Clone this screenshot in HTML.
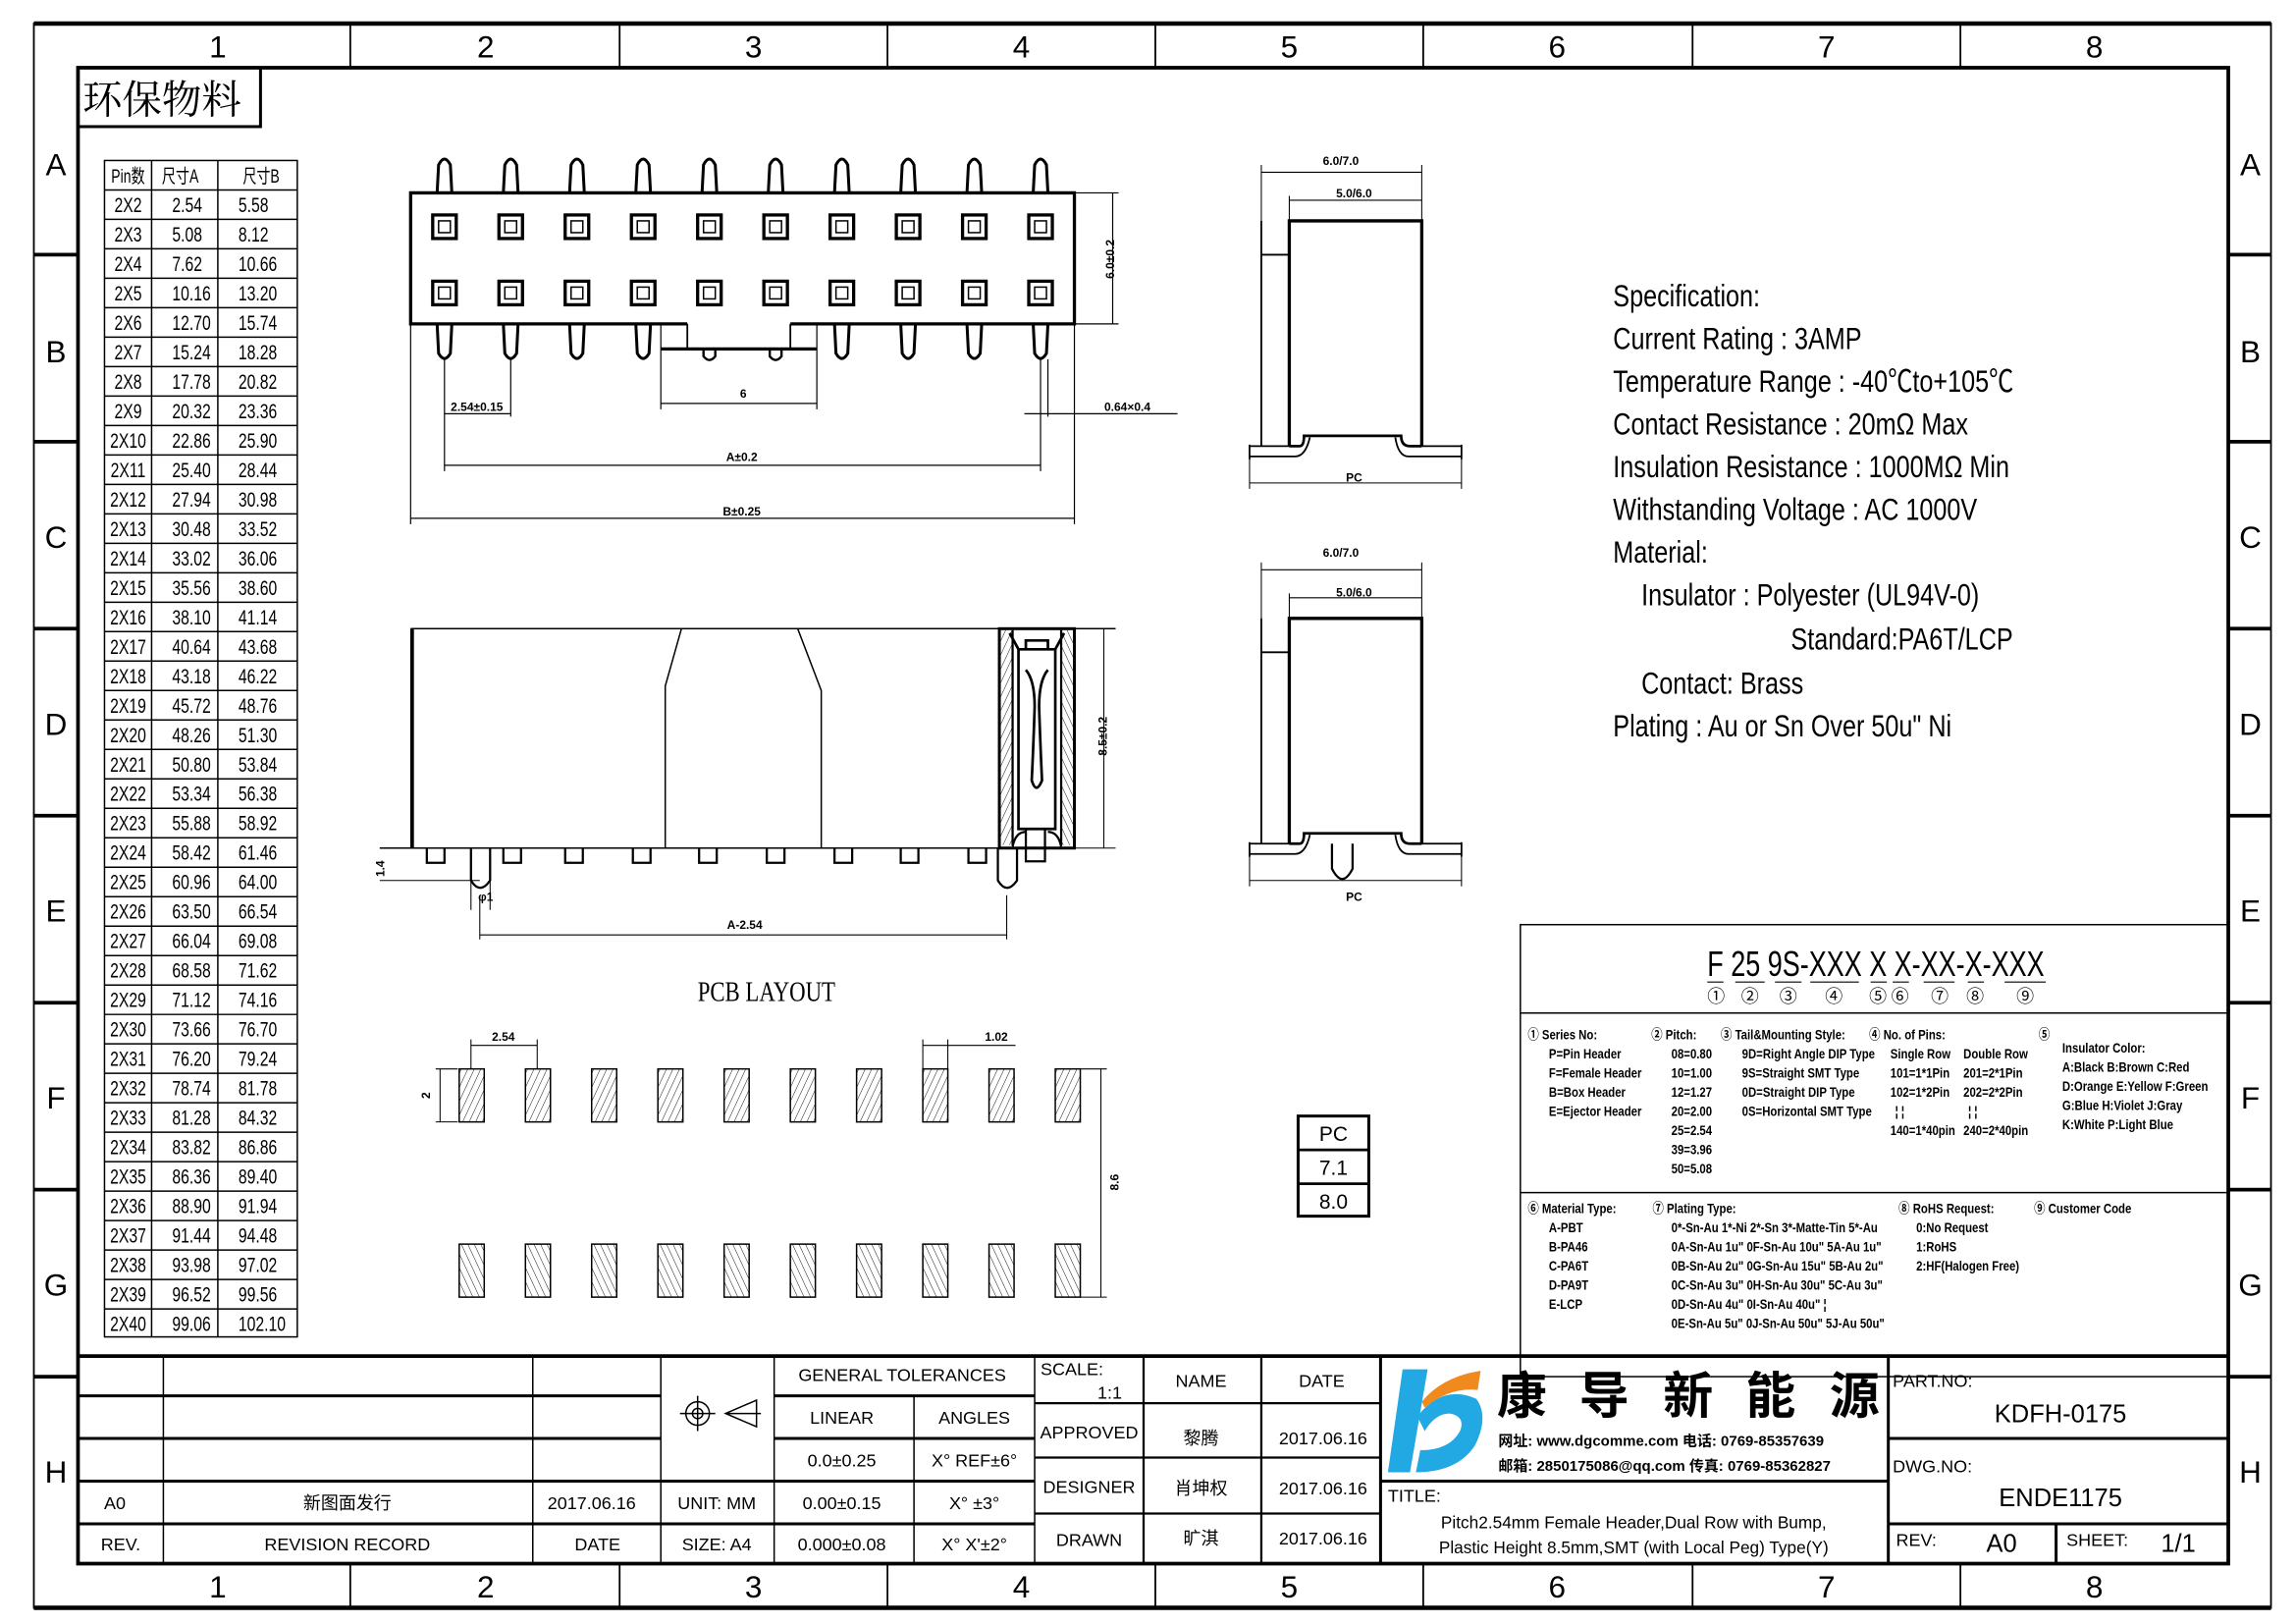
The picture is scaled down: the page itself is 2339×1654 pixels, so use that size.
<!DOCTYPE html>
<html><head><meta charset="utf-8"><style>
html,body{margin:0;padding:0;background:#fff;}
svg{display:block;}
text{font-family:"Liberation Sans","Noto Sans CJK SC",sans-serif;fill:#000;}
.s{font-family:"Liberation Serif","Noto Serif CJK SC",serif;}
</style></head><body>
<svg width="2339" height="1654" viewBox="0 0 1560 1103" preserveAspectRatio="none" xmlns="http://www.w3.org/2000/svg">
<defs>
<pattern id="h1" width="4" height="4" patternUnits="userSpaceOnUse" patternTransform="rotate(25)"><line x1="0" y1="0" x2="0" y2="4" stroke="#000" stroke-width="0.6"/></pattern>
<pattern id="h2" width="4" height="4" patternUnits="userSpaceOnUse" patternTransform="rotate(-25)"><line x1="0" y1="0" x2="0" y2="4" stroke="#000" stroke-width="0.6"/></pattern>
<g id="pinT"><path d="M-5,131 L-4,112 Q0,104 4,112 L5,131" fill="none" stroke="#000" stroke-width="2"/>
<rect x="-8" y="146" width="16" height="16" fill="none" stroke="#000" stroke-width="2.2"/><rect x="-4" y="150" width="8" height="8" fill="none" stroke="#000" stroke-width="1"/>
<rect x="-8" y="191" width="16" height="16" fill="none" stroke="#000" stroke-width="2.2"/><rect x="-4" y="195" width="8" height="8" fill="none" stroke="#000" stroke-width="1"/></g>
<g id="pin"><use href="#pinT"/><path d="M-5,220 L-4,240 Q0,247 4,240 L5,220" fill="none" stroke="#000" stroke-width="2"/></g>
<g id="pinS"><use href="#pinT"/><path d="M-4,237 V242 Q0,247 4,242 V237" fill="none" stroke="#000" stroke-width="1.6"/></g>
<g id="padT"><rect x="0" y="726" width="17" height="36" fill="url(#h1)" stroke="#000" stroke-width="1"/></g>
<g id="padB"><rect x="0" y="845" width="17" height="36" fill="url(#h2)" stroke="#000" stroke-width="1"/></g>
<g id="tab"><path d="M-6,576 V586 H6 V576" fill="none" stroke="#000" stroke-width="1.5"/></g>
</defs>
<rect width="1560" height="1103" fill="#fff"/>
<!-- frame -->
<rect x="23" y="16" width="1520" height="1076" fill="none" stroke="#000" stroke-width="1.2"/>
<line x1="23" y1="16" x2="1543" y2="16" stroke="#000" stroke-width="3"/>
<line x1="23" y1="1092" x2="1543" y2="1092" stroke="#000" stroke-width="3"/>
<rect x="53" y="46" width="1461" height="1016" fill="none" stroke="#000" stroke-width="2.5"/>
<g stroke="#000" stroke-width="1.2">
<line x1="238" y1="16" x2="238" y2="46"/><line x1="421" y1="16" x2="421" y2="46"/><line x1="603" y1="16" x2="603" y2="46"/><line x1="785" y1="16" x2="785" y2="46"/><line x1="967" y1="16" x2="967" y2="46"/><line x1="1150" y1="16" x2="1150" y2="46"/><line x1="1332" y1="16" x2="1332" y2="46"/>
<line x1="238" y1="1062" x2="238" y2="1092"/><line x1="421" y1="1062" x2="421" y2="1092"/><line x1="603" y1="1062" x2="603" y2="1092"/><line x1="785" y1="1062" x2="785" y2="1092"/><line x1="967" y1="1062" x2="967" y2="1092"/><line x1="1150" y1="1062" x2="1150" y2="1092"/><line x1="1332" y1="1062" x2="1332" y2="1092"/>
</g>
<g stroke="#000" stroke-width="2.5">
<line x1="23" y1="173" x2="53" y2="173"/><line x1="23" y1="300" x2="53" y2="300"/><line x1="23" y1="427" x2="53" y2="427"/><line x1="23" y1="554" x2="53" y2="554"/><line x1="23" y1="681" x2="53" y2="681"/><line x1="23" y1="808" x2="53" y2="808"/><line x1="23" y1="935" x2="53" y2="935"/>
<line x1="1514" y1="173" x2="1543" y2="173"/><line x1="1514" y1="300" x2="1543" y2="300"/><line x1="1514" y1="427" x2="1543" y2="427"/><line x1="1514" y1="554" x2="1543" y2="554"/><line x1="1514" y1="681" x2="1543" y2="681"/><line x1="1514" y1="808" x2="1543" y2="808"/><line x1="1514" y1="935" x2="1543" y2="935"/>
</g>
<g font-size="21" text-anchor="middle">
<text x="148" y="39">1</text><text x="330" y="39">2</text><text x="512" y="39">3</text><text x="694" y="39">4</text><text x="876" y="39">5</text><text x="1058" y="39">6</text><text x="1241" y="39">7</text><text x="1423" y="39">8</text>
<text x="148" y="1085">1</text><text x="330" y="1085">2</text><text x="512" y="1085">3</text><text x="694" y="1085">4</text><text x="876" y="1085">5</text><text x="1058" y="1085">6</text><text x="1241" y="1085">7</text><text x="1423" y="1085">8</text>
<text x="38" y="119">A</text><text x="38" y="246">B</text><text x="38" y="372">C</text><text x="38" y="499">D</text><text x="38" y="626">E</text><text x="38" y="753">F</text><text x="38" y="880">G</text><text x="38" y="1007">H</text>
<text x="1529" y="119">A</text><text x="1529" y="246">B</text><text x="1529" y="372">C</text><text x="1529" y="499">D</text><text x="1529" y="626">E</text><text x="1529" y="753">F</text><text x="1529" y="880">G</text><text x="1529" y="1007">H</text>
</g>
<!-- 环保物料 -->
<rect x="53" y="46" width="124" height="40" fill="none" stroke="#000" stroke-width="2"/>
<text x="56" y="77" font-size="27" class="s">环保物料</text>
<!-- pin table -->
<g stroke="#000" stroke-width="1" fill="none">
<rect x="71" y="109" width="131" height="799"/>
<line x1="103" y1="109" x2="103" y2="908"/><line x1="148" y1="109" x2="148" y2="908"/>
<path d="M71,129H202M71,149H202M71,169H202M71,189H202M71,209H202M71,229H202M71,249H202M71,269H202M71,289H202M71,309H202M71,329H202M71,349H202M71,369H202M71,389H202M71,409H202M71,429H202M71,449H202M71,469H202M71,489H202M71,509H202M71,529H202M71,549H202M71,569H202M71,589H202M71,609H202M71,629H202M71,649H202M71,669H202M71,689H202M71,709H202M71,729H202M71,749H202M71,769H202M71,789H202M71,809H202M71,829H202M71,849H202M71,869H202M71,889H202"/>
</g>
<g font-size="14" class="s">
<g transform="translate(87,0) scale(0.72,1)"><text x="0" y="124" font-size="13" text-anchor="middle">Pin数</text></g>
<g transform="translate(110,0) scale(0.72,1)"><text x="0" y="124" font-size="13">尺寸A</text></g>
<g transform="translate(165,0) scale(0.72,1)"><text x="0" y="124" font-size="13">尺寸B</text></g>
<g transform="translate(87,0) scale(0.75,1)"><text x="0" y="144" text-anchor="middle"><tspan x="0">2X2</tspan><tspan x="0" dy="20">2X3</tspan><tspan x="0" dy="20">2X4</tspan><tspan x="0" dy="20">2X5</tspan><tspan x="0" dy="20">2X6</tspan><tspan x="0" dy="20">2X7</tspan><tspan x="0" dy="20">2X8</tspan><tspan x="0" dy="20">2X9</tspan><tspan x="0" dy="20">2X10</tspan><tspan x="0" dy="20">2X11</tspan><tspan x="0" dy="20">2X12</tspan><tspan x="0" dy="20">2X13</tspan><tspan x="0" dy="20">2X14</tspan><tspan x="0" dy="20">2X15</tspan><tspan x="0" dy="20">2X16</tspan><tspan x="0" dy="20">2X17</tspan><tspan x="0" dy="20">2X18</tspan><tspan x="0" dy="20">2X19</tspan><tspan x="0" dy="20">2X20</tspan><tspan x="0" dy="20">2X21</tspan><tspan x="0" dy="20">2X22</tspan><tspan x="0" dy="20">2X23</tspan><tspan x="0" dy="20">2X24</tspan><tspan x="0" dy="20">2X25</tspan><tspan x="0" dy="20">2X26</tspan><tspan x="0" dy="20">2X27</tspan><tspan x="0" dy="20">2X28</tspan><tspan x="0" dy="20">2X29</tspan><tspan x="0" dy="20">2X30</tspan><tspan x="0" dy="20">2X31</tspan><tspan x="0" dy="20">2X32</tspan><tspan x="0" dy="20">2X33</tspan><tspan x="0" dy="20">2X34</tspan><tspan x="0" dy="20">2X35</tspan><tspan x="0" dy="20">2X36</tspan><tspan x="0" dy="20">2X37</tspan><tspan x="0" dy="20">2X38</tspan><tspan x="0" dy="20">2X39</tspan><tspan x="0" dy="20">2X40</tspan></text></g>
<g transform="translate(117,0) scale(0.75,1)"><text x="0" y="144"><tspan x="0">2.54</tspan><tspan x="0" dy="20">5.08</tspan><tspan x="0" dy="20">7.62</tspan><tspan x="0" dy="20">10.16</tspan><tspan x="0" dy="20">12.70</tspan><tspan x="0" dy="20">15.24</tspan><tspan x="0" dy="20">17.78</tspan><tspan x="0" dy="20">20.32</tspan><tspan x="0" dy="20">22.86</tspan><tspan x="0" dy="20">25.40</tspan><tspan x="0" dy="20">27.94</tspan><tspan x="0" dy="20">30.48</tspan><tspan x="0" dy="20">33.02</tspan><tspan x="0" dy="20">35.56</tspan><tspan x="0" dy="20">38.10</tspan><tspan x="0" dy="20">40.64</tspan><tspan x="0" dy="20">43.18</tspan><tspan x="0" dy="20">45.72</tspan><tspan x="0" dy="20">48.26</tspan><tspan x="0" dy="20">50.80</tspan><tspan x="0" dy="20">53.34</tspan><tspan x="0" dy="20">55.88</tspan><tspan x="0" dy="20">58.42</tspan><tspan x="0" dy="20">60.96</tspan><tspan x="0" dy="20">63.50</tspan><tspan x="0" dy="20">66.04</tspan><tspan x="0" dy="20">68.58</tspan><tspan x="0" dy="20">71.12</tspan><tspan x="0" dy="20">73.66</tspan><tspan x="0" dy="20">76.20</tspan><tspan x="0" dy="20">78.74</tspan><tspan x="0" dy="20">81.28</tspan><tspan x="0" dy="20">83.82</tspan><tspan x="0" dy="20">86.36</tspan><tspan x="0" dy="20">88.90</tspan><tspan x="0" dy="20">91.44</tspan><tspan x="0" dy="20">93.98</tspan><tspan x="0" dy="20">96.52</tspan><tspan x="0" dy="20">99.06</tspan></text></g>
<g transform="translate(162,0) scale(0.75,1)"><text x="0" y="144"><tspan x="0">5.58</tspan><tspan x="0" dy="20">8.12</tspan><tspan x="0" dy="20">10.66</tspan><tspan x="0" dy="20">13.20</tspan><tspan x="0" dy="20">15.74</tspan><tspan x="0" dy="20">18.28</tspan><tspan x="0" dy="20">20.82</tspan><tspan x="0" dy="20">23.36</tspan><tspan x="0" dy="20">25.90</tspan><tspan x="0" dy="20">28.44</tspan><tspan x="0" dy="20">30.98</tspan><tspan x="0" dy="20">33.52</tspan><tspan x="0" dy="20">36.06</tspan><tspan x="0" dy="20">38.60</tspan><tspan x="0" dy="20">41.14</tspan><tspan x="0" dy="20">43.68</tspan><tspan x="0" dy="20">46.22</tspan><tspan x="0" dy="20">48.76</tspan><tspan x="0" dy="20">51.30</tspan><tspan x="0" dy="20">53.84</tspan><tspan x="0" dy="20">56.38</tspan><tspan x="0" dy="20">58.92</tspan><tspan x="0" dy="20">61.46</tspan><tspan x="0" dy="20">64.00</tspan><tspan x="0" dy="20">66.54</tspan><tspan x="0" dy="20">69.08</tspan><tspan x="0" dy="20">71.62</tspan><tspan x="0" dy="20">74.16</tspan><tspan x="0" dy="20">76.70</tspan><tspan x="0" dy="20">79.24</tspan><tspan x="0" dy="20">81.78</tspan><tspan x="0" dy="20">84.32</tspan><tspan x="0" dy="20">86.86</tspan><tspan x="0" dy="20">89.40</tspan><tspan x="0" dy="20">91.94</tspan><tspan x="0" dy="20">94.48</tspan><tspan x="0" dy="20">97.02</tspan><tspan x="0" dy="20">99.56</tspan><tspan x="0" dy="20">102.10</tspan></text></g>
</g>
<!-- top view -->
<path d="M537,220 H730 V131 H279 V220 H467" fill="none" stroke="#000" stroke-width="2.2"/>
<path d="M467,220 V237 M537,220 V237" fill="none" stroke="#000" stroke-width="1.2"/>
<path d="M449,237 H555" fill="none" stroke="#000" stroke-width="2.2"/>
<use href="#pin" x="302"/><use href="#pin" x="347"/><use href="#pin" x="392"/><use href="#pin" x="437"/><use href="#pinS" x="482"/><use href="#pinS" x="527"/><use href="#pin" x="572"/><use href="#pin" x="617"/><use href="#pin" x="662"/><use href="#pin" x="707"/>
<g stroke="#000" stroke-width="0.8" fill="none">
<path d="M449,220 V278 M555,220 V278 M449,274 H555"/>
<path d="M302,244 V320 M347,244 V283 M302,281 H347"/>
<path d="M707,244 V320 M712,244 V283 M696,281 H723 M723,281 H800"/>
<path d="M302,316 H707"/>
<path d="M279,220 V356 M730,220 V356 M279,352 H730"/>
<path d="M730,131 H760 M730,220 H760 M756,131 V220"/>
</g>
<g font-size="8" class="s" text-anchor="middle" font-weight="bold">
<text x="505" y="270">6</text><text x="324" y="279">2.54±0.15</text><text x="504" y="313">A±0.2</text><text x="504" y="350">B±0.25</text><text x="766" y="279">0.64×0.4</text>
<text transform="translate(757,176) rotate(-90)">6.0±0.2</text>
<text transform="translate(752,500) rotate(-90)">8.5±0.2</text>
<text x="506" y="631">A-2.54</text><text x="330" y="612">φ1</text>
<text transform="translate(261,590) rotate(-90)">1.4</text>
</g>
<!-- front view -->
<path d="M279,427 H758" stroke="#000" stroke-width="1" fill="none"/>
<path d="M280,427 V576" stroke="#000" stroke-width="2.5"/>
<path d="M258,576 H730 M463,427 L452,466 V576 M542,427 L558,469 V576" stroke="#000" stroke-width="1" fill="none"/>
<use href="#tab" x="296"/><use href="#tab" x="348"/><use href="#tab" x="390"/><use href="#tab" x="436"/><use href="#tab" x="481"/><use href="#tab" x="527"/><use href="#tab" x="573"/><use href="#tab" x="618"/><use href="#tab" x="664"/>
<path d="M320,576 V598 Q326,608 333,598 V576 M678,576 V598 Q684,608 691,598 V576" stroke="#000" stroke-width="1.5" fill="none"/>
<path d="M258,598 H326 M320,598 V618 M333,598 V618 M326,608 V638 M684,608 V638 M326,635 H684" stroke="#000" stroke-width="0.7" fill="none"/>
<rect x="679" y="427" width="51" height="149" fill="none" stroke="#000" stroke-width="2"/>
<rect x="680" y="428" width="8" height="146" fill="url(#h1)"/><rect x="721" y="428" width="8" height="146" fill="url(#h2)"/>
<path d="M688,428 V574 M721,428 V574" stroke="#000" stroke-width="1.5"/>
<path d="M692,441 H717 V563 H692 Z M692,441 L686,430 M717,441 L723,430 M697,441 V435 H712 V441" fill="none" stroke="#000" stroke-width="1.8"/>
<path d="M697,455 Q703,462 703,480 Q702,510 701,530 Q704,540 708,530 Q707,510 706,480 Q706,462 712,455" fill="none" stroke="#000" stroke-width="1.8"/>
<path d="M688,575 Q690,565 697,565 M721,575 Q719,565 712,565 M697,563 V585 H710 V563" fill="none" stroke="#000" stroke-width="1.5"/>
<path d="M730,427 H758 M730,576 H758 M750,427 V576" stroke="#000" stroke-width="0.7" fill="none"/>
<!-- side views -->
<g id="sv" fill="none" stroke="#000">
<path d="M857,150 V303 M857,173 H876" stroke-width="1.2"/>
<path d="M876,303 V150 H966 V303" stroke-width="2.2"/>
<path d="M876,303 H883 Q886,303 886,296 H952 Q952,303 958,303 H966" stroke-width="1.8"/>
<path d="M849,303 H876 M849,310 H880 Q887,310 890,297 M849,302 V312 M966,303 H993 M993,310 H957 Q950,310 948,297 M993,302 V312" stroke-width="1.2"/>
<path d="M857,150 V112 M966,150 V112 M857,117 H966 M876,150 V133 M876,136 H966 M849,312 V332 M993,312 V332 M849,328 H993" stroke-width="0.7"/>
</g>
<use href="#sv" y="270"/>
<path d="M905,573 V590 Q912,604 919,590 V573" fill="none" stroke="#000" stroke-width="1.5"/>
<g font-size="8" class="s" text-anchor="middle" font-weight="bold">
<text x="911" y="112">6.0/7.0</text><text x="920" y="134">5.0/6.0</text><text x="920" y="327">PC</text>
<text x="911" y="378">6.0/7.0</text><text x="920" y="405">5.0/6.0</text><text x="920" y="612">PC</text>
</g>
<!-- spec -->
<g font-size="21" class="s" transform="translate(1096,0) scale(0.8,1)">
<text x="0" y="208">Specification:</text>
<text x="0" y="237">Current Rating : 3AMP</text>
<text x="0" y="266">Temperature Range : -40℃to+105℃</text>
<text x="0" y="295">Contact Resistance : 20mΩ Max</text>
<text x="0" y="324">Insulation Resistance : 1000MΩ Min</text>
<text x="0" y="353">Withstanding Voltage : AC 1000V</text>
<text x="0" y="382">Material:</text>
<text x="24" y="411">Insulator : Polyester (UL94V-0)</text>
<text x="151" y="441">Standard:PA6T/LCP</text>
<text x="24" y="471">Contact: Brass</text>
<text x="0" y="500">Plating : Au or Sn Over 50u" Ni</text>
</g>
<!-- PCB layout -->
<text x="474" y="680" font-size="19" class="s" transform="translate(474,0) scale(0.8,1) translate(-474,0)">PCB LAYOUT</text>
<use href="#padT" x="312"/><use href="#padT" x="357"/><use href="#padT" x="402"/><use href="#padT" x="447"/><use href="#padT" x="492"/><use href="#padT" x="537"/><use href="#padT" x="582"/><use href="#padT" x="627"/><use href="#padT" x="672"/><use href="#padT" x="717"/>
<use href="#padB" x="312"/><use href="#padB" x="357"/><use href="#padB" x="402"/><use href="#padB" x="447"/><use href="#padB" x="492"/><use href="#padB" x="537"/><use href="#padB" x="582"/><use href="#padB" x="627"/><use href="#padB" x="672"/><use href="#padB" x="717"/>
<g stroke="#000" stroke-width="0.7" fill="none">
<path d="M320,726 V706 M365,726 V706 M320,710 H365 M627,726 V706 M644,726 V706 M627,710 H690 M296,726 H311 M296,762 H311 M299,726 V762 M734,726 H752 M734,881 H752 M748,726 V881"/>
</g>
<g font-size="8" class="s" text-anchor="middle" font-weight="bold">
<text x="342" y="707">2.54</text><text x="677" y="707">1.02</text>
<text transform="translate(292,744) rotate(-90)">2</text>
<text transform="translate(760,803) rotate(-90)">8.6</text>
</g>
<rect x="882" y="758" width="48" height="68" fill="none" stroke="#000" stroke-width="2"/>
<path d="M882,781 H930 M882,804 H930" stroke="#000" stroke-width="1.8"/>
<g font-size="14" text-anchor="middle"><text x="906" y="775">PC</text><text x="906" y="798">7.1</text><text x="906" y="821">8.0</text></g>
<!-- part number box -->
<rect x="1033" y="628" width="481" height="307" fill="none" stroke="#000" stroke-width="1"/>
<path d="M1033,688 H1514 M1033,810 H1514" stroke="#000" stroke-width="1"/>
<g class="s" font-size="24" transform="translate(1160,0) scale(0.75,1)">
<text x="0" y="663" xml:space="preserve">F 25 9S-XXX X X-XX-X-XXX</text>
</g>
<g stroke="#000" stroke-width="0.7"><path d="M1160,667 H1171 M1179,667 H1199 M1206,667 H1224 M1230,667 H1263 M1271,667 H1282 M1286,667 H1297 M1307,667 H1328 M1337,667 H1348 M1362,667 H1390"/></g>
<g font-size="12" text-anchor="middle" class="s"><text x="1166" y="681">①</text><text x="1189" y="681">②</text><text x="1215" y="681">③</text><text x="1246" y="681">④</text><text x="1276" y="681">⑤</text><text x="1291" y="681">⑥</text><text x="1318" y="681">⑦</text><text x="1342" y="681">⑧</text><text x="1376" y="681">⑨</text></g>
<g font-size="9.5" class="s" font-weight="bold" transform="translate(1038,0) scale(0.8,1)">
<text x="0" y="706">① Series No:</text><text x="18" y="719">P=Pin Header</text><text x="18" y="732">F=Female Header</text><text x="18" y="745">B=Box Header</text><text x="18" y="758">E=Ejector Header</text>
<text x="105" y="706">② Pitch:</text><text x="122" y="719">08=0.80</text><text x="122" y="732">10=1.00</text><text x="122" y="745">12=1.27</text><text x="122" y="758">20=2.00</text><text x="122" y="771">25=2.54</text><text x="122" y="784">39=3.96</text><text x="122" y="797">50=5.08</text>
<text x="164" y="706">③ Tail&amp;Mounting Style:</text><text x="182" y="719">9D=Right Angle DIP Type</text><text x="182" y="732">9S=Straight SMT Type</text><text x="182" y="745">0D=Straight DIP Type</text><text x="182" y="758">0S=Horizontal SMT Type</text>
<text x="290" y="706">④ No. of Pins:</text><text x="308" y="719">Single Row</text><text x="370" y="719">Double Row</text><text x="308" y="732">101=1*1Pin</text><text x="370" y="732">201=2*1Pin</text><text x="308" y="745">102=1*2Pin</text><text x="370" y="745">202=2*2Pin</text><text x="312" y="758">¦  ¦</text><text x="374" y="758">¦  ¦</text><text x="308" y="771">140=1*40pin</text><text x="370" y="771">240=2*40pin</text>
<text x="434" y="706">⑤</text><text x="454" y="715">Insulator Color:</text><text x="454" y="728">A:Black  B:Brown  C:Red</text><text x="454" y="741">D:Orange E:Yellow F:Green</text><text x="454" y="754">G:Blue   H:Violet J:Gray</text><text x="454" y="767">K:White  P:Light Blue</text>
<text x="0" y="824">⑥ Material Type:</text><text x="18" y="837">A-PBT</text><text x="18" y="850">B-PA46</text><text x="18" y="863">C-PA6T</text><text x="18" y="876">D-PA9T</text><text x="18" y="889">E-LCP</text>
<text x="106" y="824">⑦ Plating Type:</text><text x="122" y="837">0*-Sn-Au 1*-Ni 2*-Sn 3*-Matte-Tin 5*-Au</text><text x="122" y="850">0A-Sn-Au 1u" 0F-Sn-Au 10u"  5A-Au 1u"</text><text x="122" y="863">0B-Sn-Au 2u" 0G-Sn-Au 15u"  5B-Au 2u"</text><text x="122" y="876">0C-Sn-Au 3u" 0H-Sn-Au 30u"  5C-Au 3u"</text><text x="122" y="889">0D-Sn-Au 4u" 0I-Sn-Au 40u"      ¦</text><text x="122" y="902">0E-Sn-Au 5u" 0J-Sn-Au 50u"  5J-Au 50u"</text>
<text x="315" y="824">⑧ RoHS Request:</text><text x="330" y="837">0:No Request</text><text x="330" y="850">1:RoHS</text><text x="330" y="863">2:HF(Halogen Free)</text>
<text x="430" y="824">⑨ Customer Code</text>
</g>
<!-- title block -->
<g stroke="#000" fill="none">
<path d="M53,921 H1514" stroke-width="2.5"/>
<path d="M53,948 H449 M53,977 H449 M53,1006 H526 M53,1035 H526 M526,948 H703 M526,977 H703 M526,1006 H703 M526,1035 H703" stroke-width="2"/>
<path d="M111,921 V1062 M362,921 V1062 M449,921 V1062 M526,921 V1062 M621,948 V1062 M703,921 V1062" stroke-width="1"/>
<path d="M703,953 H938 M703,990 H938 M703,1028 H938 M777,921 V1062 M857,921 V1062" stroke-width="1.5"/>
<path d="M938,921 V1062 M1283,921 V1062 M938,1006 H1283 M1283,977 H1514 M1283,1035 H1514 M1397,1035 V1062" stroke-width="2"/>
</g>
<g stroke="#000" fill="none" stroke-width="1"><circle cx="474" cy="960" r="8"/><circle cx="474" cy="960" r="3.5"/><path d="M462,960 H486 M474,948 V972 M493,960 L514,951 V969 Z M493,960 H517"/></g>
<g class="s" font-size="12" text-anchor="middle">
<text x="613" y="938">GENERAL TOLERANCES</text><text x="572" y="967">LINEAR</text><text x="662" y="967">ANGLES</text>
<text x="572" y="996">0.0±0.25</text><text x="662" y="996">X° REF±6°</text>
<text x="572" y="1025">0.00±0.15</text><text x="662" y="1025">X° ±3°</text>
<text x="572" y="1053">0.000±0.08</text><text x="662" y="1053">X° X'±2°</text>
<text x="487" y="1025">UNIT: MM</text><text x="487" y="1053">SIZE: A4</text>
<text x="78" y="1025">A0</text><text x="236" y="1025">新图面发行</text><text x="402" y="1025">2017.06.16</text>
<text x="82" y="1053">REV.</text><text x="236" y="1053">REVISION RECORD</text><text x="406" y="1053">DATE</text>
<text x="707" y="934" text-anchor="start">SCALE:</text><text x="754" y="950">1:1</text>
<text x="816" y="942">NAME</text><text x="898" y="942">DATE</text>
<text x="740" y="977">APPROVED</text><text x="816" y="981">黎腾</text><text x="899" y="981">2017.06.16</text>
<text x="740" y="1014">DESIGNER</text><text x="816" y="1015">肖坤权</text><text x="899" y="1015">2017.06.16</text>
<text x="740" y="1050">DRAWN</text><text x="816" y="1049">旷淇</text><text x="899" y="1049">2017.06.16</text>
<text x="943" y="1020" text-anchor="start">TITLE:</text>
<text x="1110" y="1038" font-size="11.5">Pitch2.54mm Female Header,Dual Row with Bump,</text>
<text x="1110" y="1055" font-size="11.5">Plastic Height 8.5mm,SMT (with Local Peg) Type(Y)</text>
<text x="1286" y="942" text-anchor="start">PART.NO:</text><text x="1400" y="966" font-size="17">KDFH-0175</text>
<text x="1286" y="1000" text-anchor="start">DWG.NO:</text><text x="1400" y="1023" font-size="17">ENDE1175</text>
<text x="1302" y="1050">REV:</text><text x="1360" y="1054" font-size="17">A0</text><text x="1425" y="1050">SHEET:</text><text x="1480" y="1054" font-size="17">1/1</text>
</g>
<!-- logo -->
<path d="M953,930 L970,930 L958,1000 L943,1000 Z" fill="#22a9e3"/>
<path d="M963,962 Q980,940 1003,950 Q1012,962 1002,982 Q990,1000 962,1000 L965,985 Q985,985 992,972 Q996,962 985,960 Q975,960 968,972 Z" fill="#22a9e3"/>
<path d="M966,952 Q980,935 1006,931 L1004,944 Q985,942 968,956 Z" fill="#f08a1e"/>
<g font-size="34" font-weight="bold" style="font-family:'Noto Sans CJK SC',sans-serif"><text x="1017" y="960">康</text><text x="1073" y="960">导</text><text x="1130" y="960">新</text><text x="1186" y="960">能</text><text x="1243" y="960">源</text></g>
<g font-size="10" font-weight="bold"><text x="1018" y="982">网址: www.dgcomme.com    电话: 0769-85357639</text><text x="1018" y="999">邮箱: 2850175086@qq.com 传真: 0769-85362827</text></g>
</svg>
</body></html>
